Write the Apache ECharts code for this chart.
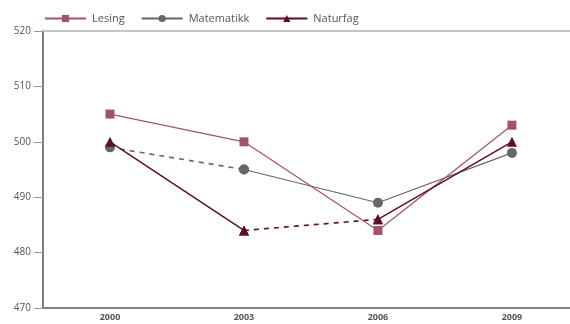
<!DOCTYPE html>
<html>
<head>
<meta charset="utf-8">
<script src="https://cdn.jsdelivr.net/npm/echarts@6/dist/echarts.min.js"></script>
<style>
  html, body { margin: 0; padding: 0; background: #fff; }
  #chart { width: 570px; height: 324px; }
</style>
</head>
<body>
<div id="chart"></div>
<script>
// Survey years and mean scores per subject
const years = [2000, 2003, 2006, 2009];
const lesing = [505, 500, 484, 503];
const matematikk = [499, 495, 489, 498];
const naturfag = [500, 484, 486, 500];

// Index of the start year of the segment drawn dashed in each series
const matematikkDashedFrom = 0;
const naturfagDashedFrom = 1;

const yTicks = [470, 480, 490, 500, 510, 520];

const colLesing = '#a15469';
const colMat = '#676767';
const colNat = '#5e0b2e';

const pairs = (values) => values.map((v, i) => [years[i], v]);

// Points up to and including the dash start, and from the dash end on
function before(values, dashFrom) {
  return values.map((v, i) => [years[i], i <= dashFrom ? v : null]);
}
function after(values, dashFrom) {
  return values.map((v, i) => [years[i], i >= dashFrom + 1 ? v : null]);
}
function dashed(values, dashFrom) {
  return values.map((v, i) => [years[i], (i === dashFrom || i === dashFrom + 1) ? v : null]);
}

const chart = echarts.init(document.getElementById('chart'), null, { renderer: 'canvas' });

function line(name, color, width, symbol, size, data, z, dash) {
  return {
    name, type: 'line', data,
    symbol, symbolSize: size,
    lineStyle: { color, width, type: dash ? [5, 5] : 'solid' },
    itemStyle: { color },
    z
  };
}

chart.setOption({
  animation: false,
  textStyle: { fontFamily: 'Open Sans' },
  legend: {
    left: 44, top: 13, padding: 0,
    itemWidth: 41, itemHeight: 9, itemGap: 16,
    textStyle: { fontSize: 11, color: '#555', fontFamily: 'Open Sans', padding: [0, 0, 0, 1] },
    data: ['Lesing', 'Matematikk', 'Naturfag']
  },
  grid: { left: 43, top: 31, right: 0, bottom: 16, containLabel: false },
  xAxis: {
    type: 'value',
    min: 1998.5, max: 2010.3,
    axisLine: { lineStyle: { color: '#808080', width: 2 } },
    axisTick: { show: false },
    splitLine: { show: false },
    axisLabel: {
      fontSize: 9, color: '#555', fontWeight: 'bold', margin: 5,
      customValues: years,
      formatter: (v) => String(v)
    }
  },
  yAxis: {
    type: 'value',
    min: yTicks[0], max: yTicks[yTicks.length - 1], interval: 10,
    axisLine: { show: true, lineStyle: { color: '#808080', width: 2 } },
    axisTick: { show: true, length: 9, lineStyle: { color: '#999', width: 1 } },
    axisLabel: { fontSize: 10, color: '#555', margin: 12 },
    splitLine: { show: false }
  },
  series: [
    line('Lesing', colLesing, 1.2, 'rect', 9, pairs(lesing), 3),
    line('Matematikk', colMat, 1.2, 'circle', 10, after(matematikk, matematikkDashedFrom), 3),
    line('Matematikk', colMat, 1.6, 'circle', 10, dashed(matematikk, matematikkDashedFrom), 2, true),
    line('Naturfag', colNat, 1.4, 'triangle', 10, before(naturfag, naturfagDashedFrom), 4),
    line('Naturfag', colNat, 1.4, 'triangle', 10, after(naturfag, naturfagDashedFrom), 4),
    line('Naturfag', colNat, 1.6, 'triangle', 10, dashed(naturfag, naturfagDashedFrom), 2, true),
    // light rule along the top of the plot
    {
      type: 'line', data: [], silent: true,
      markLine: {
        silent: true, symbol: 'none', label: { show: false },
        lineStyle: { color: '#c4c4c4', width: 2, type: 'solid' },
        data: [{ yAxis: yTicks[yTicks.length - 1] }]
      }
    }
  ]
});
</script>
</body>
</html>
